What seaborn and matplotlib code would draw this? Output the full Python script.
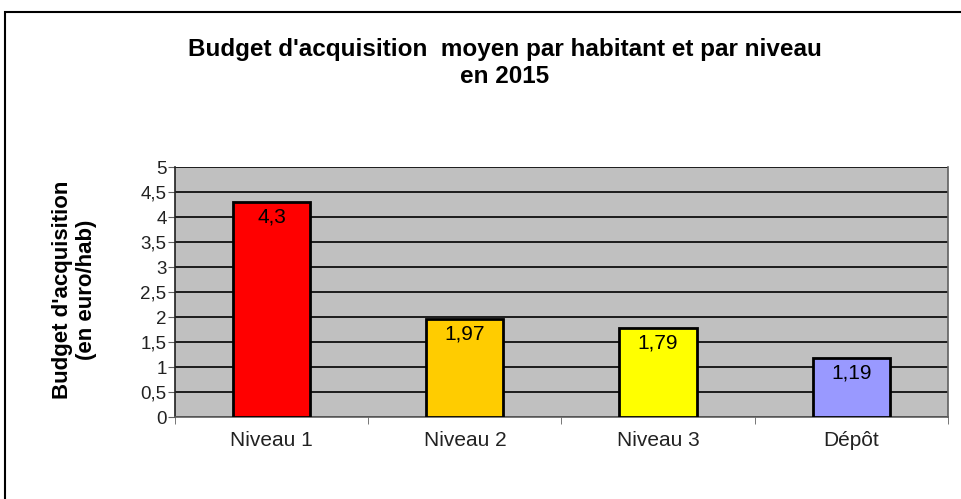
import matplotlib
matplotlib.use("Agg")
import matplotlib.pyplot as plt
import seaborn as sns
import pandas as pd
from matplotlib.patches import Rectangle

# Data
categories = ['Niveau 1', 'Niveau 2', 'Niveau 3', 'Dépôt']
values = [4.3, 1.97, 1.79, 1.19]
bar_colors = ['#FF0000', '#FFCC00', '#FFFF00', '#9999FF']
y_ticks = [0, 0.5, 1, 1.5, 2, 2.5, 3, 3.5, 4, 4.5, 5]
y_tick_labels = ['0', '0,5', '1', '1,5', '2', '2,5', '3', '3,5', '4', '4,5', '5']
value_labels = ['4,3', '1,97', '1,79', '1,19']

sns.set_style("white")
plt.rcParams['font.family'] = ['Liberation Sans', 'DejaVu Sans']
plt.rcParams['text.color'] = 'black'
plt.rcParams['axes.labelcolor'] = 'black'
plt.rcParams['xtick.color'] = 'black'
plt.rcParams['ytick.color'] = 'black'

df = pd.DataFrame({'Niveau': categories, 'Budget': values})

fig = plt.figure(figsize=(9.61, 4.99), dpi=100)
ax = fig.add_axes([0.182, 0.1643, 0.8045, 0.501])

sns.barplot(data=df, x='Niveau', y='Budget', hue='Niveau', palette=bar_colors,
            saturation=1, width=0.4, edgecolor='black', linewidth=2,
            legend=False, ax=ax, zorder=3)

ax.set_facecolor('#C0C0C0')
ax.set_ylim(0, 5)
ax.set_xlim(-0.5, 3.5)
ax.set_yticks(y_ticks)
ax.set_yticklabels(y_tick_labels, fontsize=13.5)
ax.yaxis.grid(True, color='black', linewidth=1.2)
ax.set_axisbelow(True)

ax.set_xticks(range(len(categories)))
ax.set_xticklabels(categories, fontsize=15)
ax.tick_params(axis='x', length=0, pad=10, labelcolor='#222222')
ax.set_xticks([-0.5, 0.5, 1.5, 2.5, 3.5], minor=True)
ax.tick_params(axis='x', which='minor', length=5, color='#606060', direction='out', bottom=True)
ax.tick_params(axis='y', length=5, color='#606060', direction='out', left=True, pad=1,
               labelcolor='#222222')

for side in ['left', 'bottom', 'right', 'top']:
    ax.spines[side].set_color('#606060')
    ax.spines[side].set_linewidth(1.2)
ax.spines['top'].set_visible(False)
ax.spines['left'].set_color('#202020')

for i, (v, lab) in enumerate(zip(values, value_labels)):
    ax.text(i, v - 0.3, lab, ha='center', va='center', fontsize=15, color='black', zorder=4)

ax.set_xlabel('')
ax.set_ylabel("Budget d'acquisition\n(en euro/hab)", fontsize=16,
              fontweight='bold', linespacing=1.15)
ax.yaxis.set_label_coords(-0.101, 0.51)

fig.text(0.525, 0.874, "Budget d'acquisition  moyen par habitant et par niveau\nen 2015",
         ha='center', va='center', fontsize=17.5, fontweight='bold', linespacing=1.2)

# outer chart frame
fig.patches.append(Rectangle((5 / 961, -0.1), 1.1, 1 - 12 / 499 + 0.1,
                             transform=fig.transFigure, fill=False,
                             edgecolor='black', linewidth=1.5))

fig.savefig('out.png', dpi=100)
